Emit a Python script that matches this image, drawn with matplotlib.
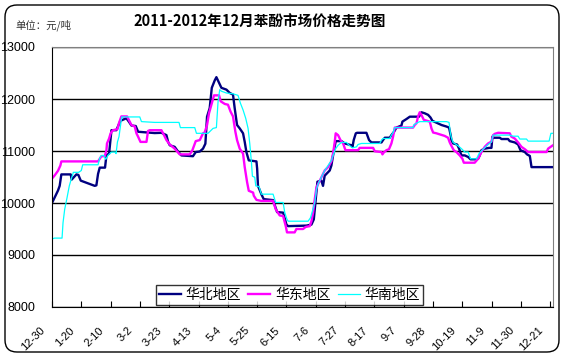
import matplotlib
matplotlib.use("Agg")
import matplotlib.pyplot as plt
import matplotlib.transforms as mtransforms
from matplotlib.patches import FancyBboxPatch

plt.rcParams['font.family'] = ['Liberation Sans', 'Noto Sans CJK SC', 'DejaVu Sans']

# x = days since 2011-12-30
north_days = [0, 4.3, 5.5, 6.7, 13.4, 14.1, 17.5, 18.9, 20.6, 24.6, 30.6, 31.8, 33, 34.2, 38, 39, 40.9,
              42.6, 46.1, 49, 53.3, 55.2, 56.9, 60, 61.7, 73.6, 78.4, 82, 83.2, 84.4, 87.9, 90.3, 92.7,
              101, 103, 105.9, 108.2, 109.9, 111.1, 113, 114.5, 116.6, 117.8, 120.2, 121.4, 125, 127.4,
              129.7, 130.9, 132.6, 134.5, 136.9, 138.1, 139.3, 141, 146.5, 147, 147.6, 150, 151.7, 158.4,
              161.3, 165.6, 168, 169.2, 182.3, 185.9, 187.6, 189, 190.2, 193, 194.2, 195.4, 199, 200.2,
              201.4, 203.3, 207.4, 209.8, 214.6, 215.3, 216.2, 217.7, 218.6, 225.3, 227.2, 228.9, 236.1,
              237.2, 238.5, 242, 243.2, 245.1, 246.8, 250.4, 251.1, 254, 256.4, 263, 264.7, 267.1, 269.5,
              271.2, 272.6, 275.5, 279.1, 282.7, 284.5, 285.7, 286.2, 287.4, 290.3, 291.7, 293.4, 295.8,
              298.2, 299.9, 302.9, 305.3, 306.5, 307.7, 310.1, 313.2, 314.9, 315.6, 316.6, 320.9, 322.1,
              326.8, 328, 331.6, 334, 335.7, 338.8, 340.4, 342.4, 343.6, 359]
north = [10000, 10240, 10330, 10550, 10550, 10450, 10550, 10540, 10430, 10390, 10330, 10340, 10560, 10680,
         10680, 10920, 10950, 11400, 11400, 11580, 11630, 11560, 11490, 11480, 11370, 11345, 11350, 11305,
         11175, 11110, 11080, 10990, 10915, 10900, 10980, 10990, 11045, 11140, 11660, 11825, 12215, 12357,
         12420, 12280, 12215, 12180, 12115, 12085, 11825, 11500, 11435, 11340, 11175, 10980, 10820, 10800,
         10660, 10330, 10170, 10075, 10055, 9825, 9815, 9585, 9555, 9565, 9585, 9685, 10075, 10410, 10430,
         10330, 10525, 10625, 10720, 10915, 11190, 11190, 11145, 11110, 11080, 11210, 11340, 11350, 11350,
         11210, 11165, 11165, 11210, 11255, 11255, 11305, 11370, 11450, 11490, 11565, 11615, 11660, 11660,
         11745, 11725, 11695, 11645, 11580, 11545, 11500, 11470, 11450, 11300, 11210, 11145, 11125, 11045,
         10915, 10915, 10885, 10840, 10840, 10850, 10915, 11015, 11045, 11060, 11060, 11275, 11255, 11255,
         11230, 11230, 11190, 11165, 11125, 11015, 10980, 10935, 10905, 10690, 10690]

east_days = [0, 1.9, 4.3, 6, 6.7, 33, 34.2, 35.4, 37.8, 39, 39.4, 40.9, 42, 43.7, 46.9, 48, 49.7, 53.8, 55,
             56.9, 59.3, 60.5, 61.7, 63.4, 67.7, 68.8, 70, 78.4, 80, 82, 84.4, 87.9, 91.5, 98.7, 100.6, 103,
             105.9, 108.2, 109.4, 111.1, 112.5, 114.2, 116.1, 119.7, 120.9, 123.8, 126.1, 127.9, 129.7, 131.4,
             132.6, 134.5, 136.9, 138.1, 139.8, 141, 144.1, 144.6, 146.5, 150, 158.4, 160.3, 163.2, 165.6,
             167.5, 168.4, 173.9, 175.1, 179.9, 181.8, 184.7, 185.9, 187.1, 188.3, 189.5, 191.9, 195.4, 197.8,
             200.2, 201.4, 202.6, 203.3, 205, 206.7, 208.6, 210.3, 219.3, 220.5, 230.1, 231.3, 236.1, 236.8,
             237.7, 239.6, 241.5, 243.2, 244.4, 245.6, 258.7, 259.9, 261.2, 262.3, 263.5, 264.7, 266.4, 270.7,
             271.9, 273.1, 275.5, 277.9, 281.4, 283.8, 285, 286.2, 287.9, 289.8, 292.2, 294.1, 295.1, 302.9,
             305.3, 307.7, 310.1, 312.5, 314.9, 316.1, 317.3, 319.7, 328, 329.2, 331.6, 334, 336.4, 338.8,
             341.2, 354.4, 355.5, 357.3, 359]
east = [10470, 10530, 10620, 10720, 10800, 10800, 10850, 10900, 10900, 11015, 11145, 11240, 11340, 11400,
        11420, 11535, 11665, 11665, 11600, 11500, 11470, 11340, 11275, 11175, 11175, 11385, 11400, 11400,
        11320, 11210, 11125, 11045, 10935, 10935, 11015, 11190, 11210, 11340, 11355, 11500, 11725, 11890,
        12070, 12070, 11955, 11905, 11890, 11760, 11665, 11370, 11210, 11045, 10950, 10690, 10400, 10235,
        10200, 10140, 10060, 10040, 10040, 9880, 9760, 9750, 9555, 9435, 9435, 9500, 9500, 9540, 9555, 9650,
        9815, 10075, 10300, 10430, 10625, 10690, 10800, 10950, 11175, 11340, 11305, 11210, 11145, 11015,
        11015, 11060, 11060, 10995, 10980, 10935, 10970, 11015, 11035, 11145, 11275, 11450, 11450, 11500,
        11535, 11665, 11745, 11695, 11600, 11565, 11435, 11355, 11340, 11320, 11290, 11255, 11165, 11100,
        11015, 10980, 10915, 10850, 10775, 10775, 10850, 10980, 11080, 11145, 11180, 11305, 11330, 11350,
        11340, 11275, 11240, 11165, 11080, 11035, 10980, 10980, 11045, 11080, 11110]

south_days = [0, 1.9, 7.2, 7.9, 9.1, 10.8, 12.4, 13.8, 15.3, 19.1, 21, 22, 33, 34.2, 35.4, 37, 38.5, 40.1,
              42.6, 45.2, 45.9, 46.9, 48, 49, 50, 62.9, 64.1, 73.6, 91, 92, 102.3, 103.5, 111.8, 113.5,
              115.4, 117.8, 119, 120.2, 121.4, 125, 129.7, 133.3, 135, 136.9, 138.8, 140.5, 141.7, 142.9,
              143.6, 145.3, 146, 148.4, 150, 158.4, 160.3, 165.6, 166.8, 168.4, 169.2, 183.5, 185.2, 186.6,
              188.3, 189.5, 190.7, 193, 195.4, 197.8, 200.2, 201.4, 203.3, 205, 207.4, 211, 212.9, 215.3,
              218.2, 219.3, 221.7, 234.9, 236.1, 237.2, 242, 243.2, 244.4, 245.6, 258.7, 259.2, 261.2, 263.5,
              282.7, 284.5, 285.5, 286.2, 287.4, 291, 293.4, 295.8, 298.2, 299.9, 304.2, 306, 308.9, 312.5,
              314.9, 316.1, 328, 330.4, 334, 335.2, 340, 341.2, 356.2, 357.5, 359]
south = [9310, 9325, 9325, 9620, 9880, 10105, 10330, 10460, 10590, 10590, 10625, 10735, 10735, 10865, 10915,
         10915, 10840, 10915, 10980, 10980, 10950, 11175, 11275, 11470, 11655, 11655, 11565, 11550, 11550,
         11450, 11450, 11340, 11340, 11385, 11435, 11450, 11955, 12180, 12150, 12115, 12100, 12070, 11920,
         11790, 11630, 11435, 11145, 10785, 10515, 10495, 10330, 10315, 10170, 10170, 10010, 10010, 9815,
         9685, 9650, 9650, 9715, 9845, 10010, 10265, 10365, 10495, 10625, 10720, 10820, 10915, 11045, 11110,
         11165, 11165, 11110, 11060, 11080, 11125, 11145, 11145, 11210, 11240, 11240, 11305, 11355, 11450,
         11450, 11500, 11535, 11565, 11565, 11550, 11340, 11255, 11165, 11100, 11045, 10980, 10980, 10850,
         10850, 10950, 11035, 11125, 11175, 11305, 11305, 11285, 11285, 11230, 11230, 11190, 11190, 11340,
         11340]

tick_labels = ['12-30', '1-20', '2-10', '3-2', '3-23', '4-13', '5-4', '5-25', '6-15', '7-6', '7-27',
               '8-17', '9-7', '9-28', '10-19', '11-9', '11-30', '12-21']
tick_days = [21 * i for i in range(len(tick_labels))]

fig = plt.figure(figsize=(5.68, 3.6), dpi=100)
ax = fig.add_axes([52 / 568, 1 - 307 / 360, 501 / 568, 260 / 360])

ax.plot(north_days, north, color='#000080', lw=1.7, label='华北地区')
ax.plot(east_days, east, color='#FF00FF', lw=1.7, label='华东地区')
ax.plot(south_days, south, color='#00FFFF', lw=0.9, label='华南地区')

ax.set_xlim(0, 359)
ax.set_ylim(8000, 13000)
ax.set_yticks(range(8000, 13001, 1000))
ax.yaxis.grid(True, color='black', lw=1)
ax.set_axisbelow(True)
for s in ['top', 'right']:
    ax.spines[s].set_color('#808080')
for s in ['left', 'bottom']:
    ax.spines[s].set_color('black')
ax.tick_params(axis='y', length=0, pad=12, labelsize=9)

ax.set_xticks(tick_days)
ax.set_xticklabels(tick_labels, rotation=45, ha='right', va='top', fontsize=8)
ax.tick_params(axis='x', direction='in', length=4, pad=13)
shift = mtransforms.ScaledTranslation(-5 / 100, 0, fig.dpi_scale_trans)
for lab in ax.get_xticklabels():
    lab.set_transform(lab.get_transform() + shift)

leg = ax.legend(loc='lower left', bbox_to_anchor=(0.203, 0.0), ncol=3, frameon=True, fancybox=False,
                edgecolor='black', handlelength=1.6, handletextpad=0.35, columnspacing=0.5,
                borderpad=0.2, borderaxespad=0.15, prop={'family': ['Noto Sans CJK SC'], 'size': 10})
leg.get_frame().set_linewidth(1)

fig.text(260 / 568, 1 - 22 / 360, '2011-2012年12月苯酚市场价格走势图', ha='center', va='center',
         fontsize=10.5, fontweight='bold', family=['Noto Sans CJK SC'])
fig.text(15 / 568, 1 - 25 / 360, '单位：元/吨', ha='left', va='center', fontsize=7.5,
         color='#333333', family=['Noto Sans CJK SC'])

border = FancyBboxPatch((5, 8), 554, 347, boxstyle='round,pad=0,rounding_size=12', transform=None,
                        facecolor='none', edgecolor='black', lw=1)
fig.patches.append(border)

fig.savefig('out.png', dpi=100)
